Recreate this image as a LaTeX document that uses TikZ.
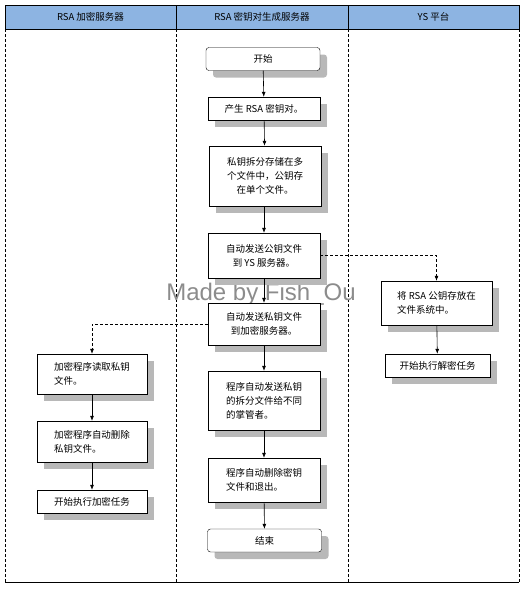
\documentclass[tikz,border=0pt]{standalone}
\usepackage{fontspec}
\newfontfamily\cjk{Noto Sans CJK SC}
\newfontfamily\markfont{Liberation Sans}
\usepackage{tikz}
\usetikzlibrary{arrows.meta,shadows}
\definecolor{lanehead}{HTML}{8DB4E2}

\begin{document}
\begin{tikzpicture}[x=1pt, y=-1pt, every node/.style={font=\cjk\fontsize{9.5}{14}\selectfont},
    proc/.style={draw, fill=white, minimum width=112pt, inner sep=2pt,
      drop shadow={shadow xshift=7pt, shadow yshift=-7pt, fill=black!28, opacity=1}},
    term/.style={proc, rounded corners=3pt, minimum width=114pt, minimum height=23pt},
    flow/.style={-{Latex[length=5pt,width=4pt]}, semithick},
    link/.style={flow, dash pattern=on 3pt off 2pt}]
        \useasboundingbox (0,0) rectangle (529,590);
        % lanes
        \draw[fill=lanehead] (5,5) rectangle (519,29);
        \draw (176,5) -- (176,29) (348,5) -- (348,29);
        \foreach \x in {5,176,348,519}{
          \draw[dash pattern=on 3pt off 2pt] (\x,29) -- (\x,582);
        }
        \draw[semithick] (5,582) -- (519,582);
        \node at (90.5,17) {RSA 加密服务器};
        \node at (262,17) {RSA 密钥对生成服务器};
        \node at (433.5,17) {YS 平台};
        % watermark
        \node[font=\markfont\fontsize{24}{24}\selectfont, text=black!45] (mark) at (261,294) {Made by Fish\_Ou};
        % key generation server
        \node[term] (start) at (263,59) {开始};
        \node[proc, minimum height=23pt] (gen) at (264,108.5) {产生 RSA 密钥对。};
        \node[proc, minimum height=60pt, align=center] (split) at (265,176) {私钥拆分存储在多\\个文件中，公钥存\\在单个文件。};
        \node[proc, minimum height=45pt, align=center] (pub) at (264,255.5) {自动发送公钥文件\\到 YS 服务器。};
        \node[proc, minimum height=42pt, align=center] (priv) at (264,324) {自动发送私钥文件\\到加密服务器。};
        \node[proc, minimum height=59pt, align=left] (share) at (264,400.5) {程序自动发送私钥\\的拆分文件给不同\\的掌管者。};
        \node[proc, minimum height=44pt, align=left] (wipe) at (264,480) {程序自动删除密钥\\文件和退出。};
        \node[term] (stop) at (264.5,540.5) {结束};
        % YS platform
        \node[proc, minimum width=111pt, minimum height=44pt, align=left] (store) at (436.5,303) {将 RSA 公钥存放在\\文件系统中。};
        \node[proc, minimum width=105pt, minimum height=23pt] (decrypt) at (437.5,365.5) {开始执行解密任务};
        % encryption server
        \node[proc, minimum width=110pt, minimum height=40pt, align=left] (read) at (92,374) {加密程序读取私钥\\文件。};
        \node[proc, minimum width=110pt, minimum height=41pt, align=left] (erase) at (92,441.5) {加密程序自动删除\\私钥文件。};
        \node[proc, minimum width=110pt, minimum height=23pt] (encrypt) at (92,501.5) {开始执行加密任务};
        % connectors
        \draw[flow] (start) -- (gen);
        \draw[flow] (gen) -- (split);
        \draw[flow] (split.south -| pub) -- (pub);
        \draw[flow] (pub) -- (priv);
        \draw[flow] (priv) -- (share);
        \draw[flow] (share) -- (wipe);
        \draw[flow] (wipe) -- (stop);
        \draw[link] (pub.east) -| (store.north);
        \draw[flow] (store) -- (decrypt);
        \draw[link] (priv.west) -| (read.north);
        \draw[flow] (read) -- (erase);
        \draw[flow] (erase) -- (encrypt);
      \end{tikzpicture}
\end{document}
